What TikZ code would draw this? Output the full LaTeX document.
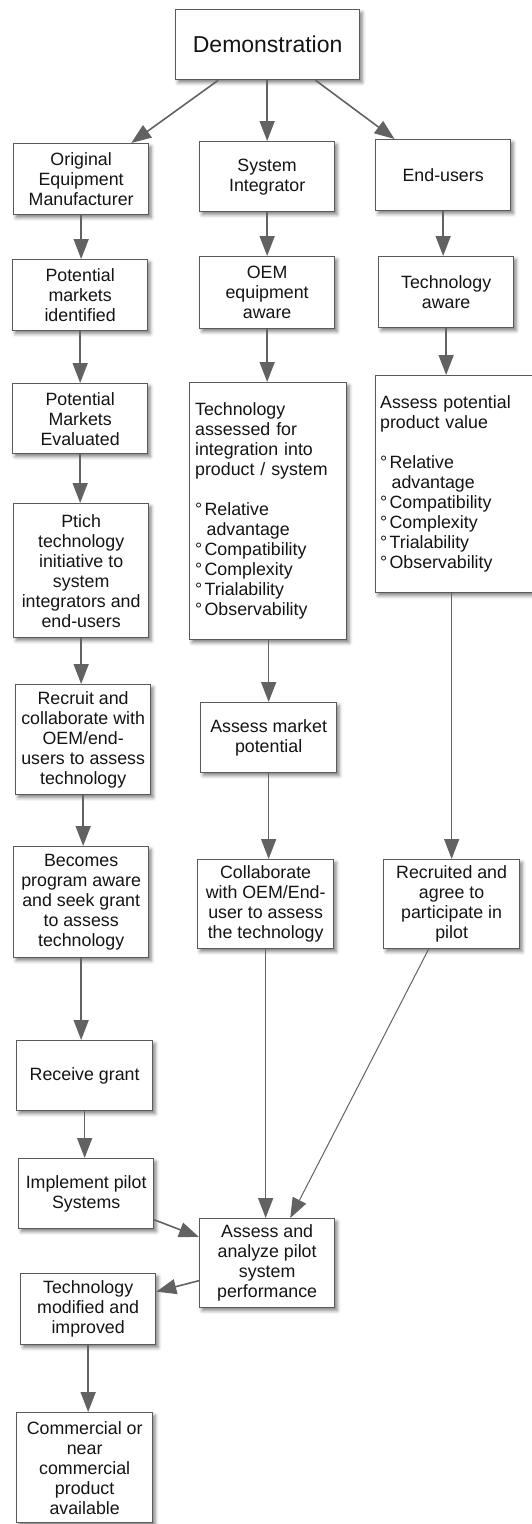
\documentclass[tikz,border=0pt]{standalone}
\usepackage{fontspec}
\setmainfont{Liberation Sans}
\usetikzlibrary{arrows.meta,shadows.blur}
\definecolor{edgegray}{RGB}{90,90,90}
\definecolor{arrowgray}{RGB}{98,98,98}
\definecolor{txt}{RGB}{20,20,20}
\tikzset{
  box/.style={draw=edgegray, line width=1.3pt, fill=white, anchor=north west,
    inner sep=0pt, align=center, text=txt,
    font=\fontsize{17.8pt}{20pt}\selectfont,
    blur shadow={shadow xshift=2.5pt, shadow yshift=-3pt,
      shadow blur radius=3.5pt, shadow opacity=50}},
  listbox/.style={box, align=left},
  flow/.style={draw=arrowgray, line width=1.6pt,
    -{Triangle[length=20pt,width=15pt]}},
}
\newcommand{\itm}[1]{\makebox[9.5pt][l]{°}#1}
\newcommand{\cont}[1]{\hspace*{11.5pt}#1}
\begin{document}
\begin{tikzpicture}[x=1pt, y=-1pt]
\useasboundingbox (0,0) rectangle (531,1524);

% top node
\node[box, minimum width=184pt, minimum height=70pt,
  font=\fontsize{23pt}{27pt}\selectfont] (demo) at (175,9) {Demonstration};

% first row
\node[box, minimum width=135pt, minimum height=71pt] (oem) at (13,143)
  {Original\\Equipment\\Manufacturer};
\node[box, minimum width=135pt, minimum height=70pt] (si) at (199,141)
  {System\\Integrator};
\node[box, minimum width=135pt, minimum height=71pt] (eu) at (375,139)
  {End-users};

% left column
\node[box, minimum width=135pt, minimum height=71pt] (pmi) at (12,259)
  {Potential\\markets\\identified};
\node[box, minimum width=135pt, minimum height=70pt] (pme) at (12,383)
  {Potential\\Markets\\Evaluated};
\node[box, minimum width=135pt, minimum height=134pt] (pitch) at (13,503)
  {Ptich\\technology\\initiative to\\system\\integrators and\\end-users};
\node[box, minimum width=135pt, minimum height=110pt] (recruit) at (15,684)
  {Recruit and\\collaborate with\\OEM/end-\\users to assess\\technology};
\node[box, minimum width=135pt, minimum height=111pt] (becomes) at (13,846)
  {Becomes\\program aware\\and seek grant\\to assess\\technology};
\node[box, minimum width=136pt, minimum height=70pt] (grant) at (16,1040)
  {Receive grant};
\node[box, minimum width=135pt, minimum height=70pt] (impl) at (18,1158)
  {Implement pilot\\Systems};
\node[box, minimum width=135pt, minimum height=71pt] (modified) at (20,1273)
  {Technology\\modified and\\improved};
\node[box, minimum width=136pt, minimum height=110pt] (commercial) at (16,1412)
  {Commercial or\\near\\commercial\\product\\available};

% middle column
\node[box, minimum width=135pt, minimum height=72pt] (oea) at (199,256)
  {OEM\\equipment\\aware};
\node[listbox, minimum width=157pt, minimum height=257pt, text width=146pt] (tai) at (189,382)
  {Technology\\assessed for\\integration into\\product / system\\[20pt]%
   \itm{Relative}\\\cont{advantage}\\\itm{Compatibility}\\\itm{Complexity}\\%
   \itm{Trialability}\\\itm{Observability}};
\node[box, minimum width=136pt, minimum height=70pt] (amp) at (200,702)
  {Assess market\\potential};
\node[box, minimum width=136pt, minimum height=89pt] (collab) at (197,859)
  {Collaborate\\with OEM/End-\\user to assess\\the technology};
\node[box, minimum width=135pt, minimum height=89pt] (analyze) at (199,1218)
  {Assess and\\analyze pilot\\system\\performance};

% right column
\node[box, minimum width=135pt, minimum height=71pt] (ta) at (378,256)
  {Technology\\aware};
\node[listbox, minimum width=170pt, minimum height=217pt, text width=161pt] (apv) at (375,375)
  {Assess potential\\product value\\[20pt]%
   \itm{Relative}\\\cont{advantage}\\\itm{Compatibility}\\\itm{Complexity}\\%
   \itm{Trialability}\\\itm{Observability}};
\node[box, minimum width=136pt, minimum height=89pt] (recruited) at (383,859)
  {Recruited and\\agree to\\participate in\\pilot};

% connectors from the top node
\draw[flow] (demo) -- (oem);
\draw[flow] (demo.south -| si.north) -- (si.north);
\draw[flow] (demo) -- (eu);

% left column flow
\draw[flow] (oem.south) -- (oem.south |- pmi.north);
\draw[flow] (pmi.south) -- (pmi.south |- pme.north);
\draw[flow] (pme.south) -- (pme.south |- pitch.north);
\draw[flow] (pitch.south) -- (pitch.south |- recruit.north);
\draw[flow] (recruit.south) -- (recruit.south |- becomes.north);
\draw[flow] (becomes.south) -- (becomes.south |- grant.north);
\draw[flow] (grant.south) -- (grant.south |- impl.north);
\draw[flow] (modified.south) -- (modified.south |- commercial.north);

% middle column flow
\draw[flow] (si.south) -- (si.south |- oea.north);
\draw[flow] (oea.south) -- (oea.south |- tai.north);
\draw[flow] (tai.south -| amp.north) -- (amp.north);
\draw[flow] (amp.south) -- (amp.south |- collab.north);
\draw[flow] (collab.south) -- (collab.south |- analyze.north);

% right column flow
\draw[flow] (eu.south) -- (eu.south |- ta.north);
\draw[flow] (ta.south) -- (ta.south |- apv.north);
\draw[flow] (apv.south -| recruited.north) -- (recruited.north);
\draw[flow, line width=1pt] (recruited) -- (analyze);

% pilot evaluation loop
\draw[flow] (impl) -- (analyze);
\draw[flow] (analyze) -- (modified);
\end{tikzpicture}
\end{document}
